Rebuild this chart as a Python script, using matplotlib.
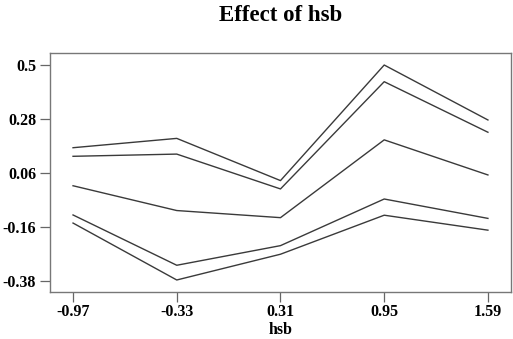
import numpy as np
import matplotlib.pyplot as plt

hsb = [-0.97, -0.33, 0.31, 0.95, 1.59]
upper_outer = [0.163, 0.201, 0.029, 0.500, 0.276]
upper_inner = [0.128, 0.137, -0.005, 0.432, 0.226]
effect = [0.008, -0.093, -0.122, 0.195, 0.052]
lower_inner = [-0.111, -0.316, -0.236, -0.046, -0.125]
lower_outer = [-0.144, -0.376, -0.271, -0.112, -0.173]
yticks = [0.5, 0.28, 0.06, -0.16, -0.38]

plt.rcParams['font.family'] = ['Liberation Serif', 'DejaVu Serif']
plt.rcParams['font.weight'] = 'bold'

fig = plt.figure(figsize=(5.13, 3.39), dpi=100)
ax = fig.add_axes([0.0975, 0.1386, 0.8985, 0.7051])

for series in [upper_outer, upper_inner, effect, lower_inner, lower_outer]:
    ax.plot(hsb, series, color='#3a3a3a', lw=1.0)

ax.set_xlim(-1.112, 1.732)
ax.set_ylim(-0.425, 0.549)
ax.set_xticks(hsb)
ax.set_xticklabels([f'{v:g}' for v in hsb])
ax.set_yticks(yticks)
ax.set_yticklabels([f'{v:g}' for v in yticks])
ax.tick_params(length=7, width=0.9, color='#666666', labelsize=11.5, pad=3)
ax.tick_params(axis='x', pad=1.5)
for sp in ax.spines.values():
    sp.set_color('#777777')
    sp.set_linewidth(1.0)

# x label placed by hand, a bit below the tick labels
fig.text(0.547, 0.028, 'hsb', ha='center', va='center',
         fontsize=11.5, fontweight='bold')
fig.text(0.547, 0.955, 'Effect of hsb', ha='center', va='center',
         fontsize=16.5, fontweight='bold')

fig.savefig('out.png', dpi=100)
